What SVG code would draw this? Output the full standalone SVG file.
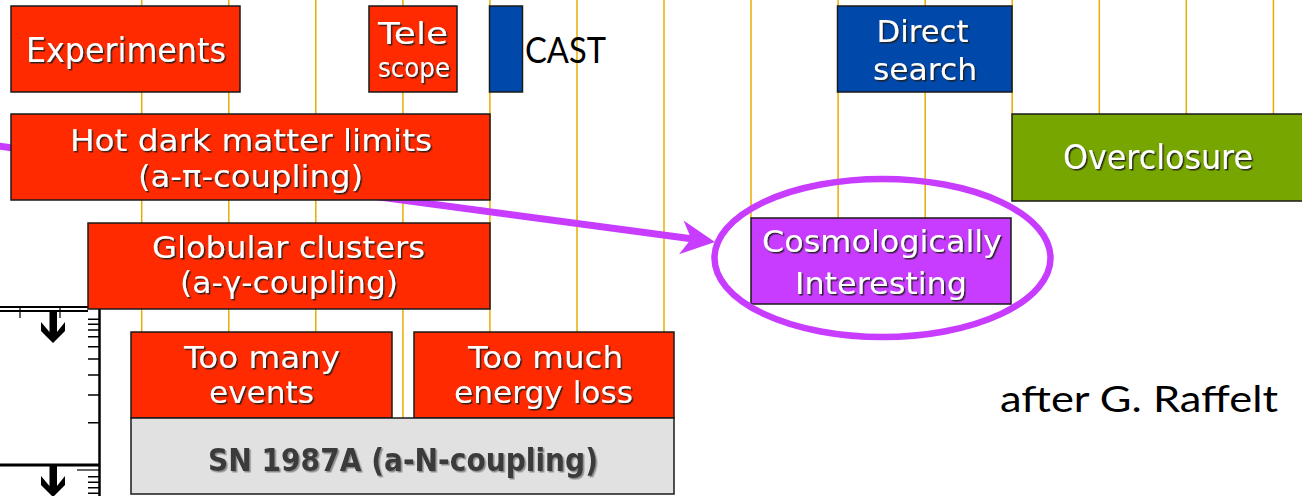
<svg xmlns="http://www.w3.org/2000/svg" width="1302" height="496" viewBox="0 0 1302 496">
<style>
.vl{stroke:#E6AE00;stroke-width:1.5;fill:none}
.box{stroke:#1a1a1a;stroke-width:1.5}
.red{fill:#FF2A00}
.blue{fill:#0048AA}
.green{fill:#78A600}
.purple{fill:#C83CFF}
.gray{fill:#E1E1E1}
.w{font-family:"DejaVu Sans",sans-serif;font-size:33px;fill:#fff;text-anchor:middle;filter:url(#sh)}
.w2{font-size:31px}
.d{font-family:"DejaVu Sans",sans-serif;font-size:32px;font-weight:bold;fill:#3a3a3a;text-anchor:middle;filter:url(#sh2)}
.k{font-family:Lato,"Liberation Sans",sans-serif;font-size:36px;fill:#000}
.ax{stroke:#000;fill:none}
</style>
<defs>
<filter id="sh" x="-5%" y="-20%" width="115%" height="150%">
<feDropShadow dx="1.5" dy="1.5" stdDeviation="0.4" flood-color="#1a1a1a" flood-opacity="0.9"/>
</filter>
<filter id="sh2" x="-5%" y="-20%" width="115%" height="150%">
<feDropShadow dx="1.5" dy="1.5" stdDeviation="0.4" flood-color="#8a8a8a" flood-opacity="1"/>
</filter>
<marker id="ah" markerUnits="userSpaceOnUse" viewBox="-36 -20 40 40" markerWidth="40" markerHeight="40" refX="-22" refY="0" orient="auto">
<path d="M0,0 L-34,-17 L-24,0 L-34,17 Z" fill="#C83CFF"/>
</marker>
</defs>

<g id="gridlines">
<line class="vl" x1="141.7" y1="0" x2="141.7" y2="332"/>
<line class="vl" x1="228.8" y1="0" x2="228.8" y2="332"/>
<line class="vl" x1="315.8" y1="0" x2="315.8" y2="332"/>
<line class="vl" x1="402.9" y1="0" x2="402.9" y2="418"/>
<line class="vl" x1="489.9" y1="0" x2="489.9" y2="332"/>
<line class="vl" x1="577" y1="0" x2="577" y2="332"/>
<line class="vl" x1="664" y1="0" x2="664" y2="332"/>
<line class="vl" x1="751" y1="0" x2="751" y2="218"/>
<line class="vl" x1="838.1" y1="0" x2="838.1" y2="218"/>
<line class="vl" x1="925.2" y1="0" x2="925.2" y2="218"/>
<line class="vl" x1="1012.2" y1="0" x2="1012.2" y2="114"/>
<line class="vl" x1="1099.3" y1="0" x2="1099.3" y2="114"/>
<line class="vl" x1="1186.3" y1="0" x2="1186.3" y2="114"/>
<line class="vl" x1="1273.4" y1="0" x2="1273.4" y2="114"/>
</g>

<g id="connectors">
<line x1="-10" y1="145" x2="693.2" y2="239" stroke="#C83CFF" stroke-width="7" marker-end="url(#ah)"/>
</g>

<g id="plot-fragment">
<line class="ax" x1="0" y1="307" x2="101" y2="307" stroke-width="2"/>
<line class="ax" x1="0" y1="311" x2="88" y2="311" stroke-width="2"/>
<line class="ax" x1="20" y1="307" x2="20" y2="318" stroke-width="1.2"/>
<line class="ax" x1="60" y1="307" x2="60" y2="318" stroke-width="1.2"/>
<line class="ax" x1="99.5" y1="306" x2="99.5" y2="496" stroke-width="2.5"/>
<path class="ax" stroke-width="1.5" d="M88,319.3H99 M88,324.3H99 M88,330H99 M88,336.7H99 M88,346.7H99 M88,359H99 M88,375H99 M88,395H99 M88,422.7H99 M88,476.7H99 M88,482.3H99 M88,487.7H99 M88,493.3H99"/>
<line class="ax" x1="0" y1="465" x2="100" y2="465" stroke-width="3"/>
<line class="ax" x1="77" y1="470" x2="99" y2="470" stroke-width="1.2"/>
<path d="M49.5,312H57V332L65,322V331L53,343L41,331V322L49.5,332Z" fill="#000"/>
<path d="M49.5,466H57V486L65,476V485L53,497L41,485V476L49.5,486Z" fill="#000"/>
</g>

<g id="experiments">
<rect class="box red" x="11" y="6" width="229" height="86"/>
<text class="w" x="126" y="62" textLength="200" lengthAdjust="spacingAndGlyphs">Experiments</text>
</g>

<g id="telescope">
<rect class="box red" x="369" y="6" width="88" height="86"/>
<text class="w" x="413" y="44" style="font-size:31px" textLength="70" lengthAdjust="spacingAndGlyphs">Tele</text>
<text class="w" x="414" y="77" style="font-size:26px" textLength="72" lengthAdjust="spacingAndGlyphs">scope</text>
</g>

<g id="cast">
<rect class="box blue" x="489.5" y="6" width="33" height="86"/>
<text class="k" x="525" y="63" textLength="81" lengthAdjust="spacingAndGlyphs">CAST</text>
</g>

<g id="direct-search">
<rect class="box blue" x="837.5" y="6" width="174.5" height="86"/>
<text class="w w2" x="922.5" y="42" textLength="92" lengthAdjust="spacingAndGlyphs">Direct</text>
<text class="w w2" x="925" y="80" textLength="104" lengthAdjust="spacingAndGlyphs">search</text>
</g>

<g id="hot-dark-matter">
<rect class="box red" x="11" y="114" width="479" height="86"/>
<text class="w w2" x="251" y="151" textLength="362" lengthAdjust="spacingAndGlyphs">Hot dark matter limits</text>
<text class="w w2" x="250.5" y="186.5" textLength="225" lengthAdjust="spacingAndGlyphs">(a-π-coupling)</text>
</g>

<g id="overclosure">
<rect class="box green" x="1012" y="114" width="300" height="87"/>
<text class="w" x="1158" y="169" textLength="190" lengthAdjust="spacingAndGlyphs">Overclosure</text>
</g>

<g id="globular-clusters">
<rect class="box red" x="88" y="223" width="402" height="86"/>
<text class="w w2" x="288.5" y="258" textLength="273" lengthAdjust="spacingAndGlyphs">Globular clusters</text>
<text class="w w2" x="289" y="293" textLength="218" lengthAdjust="spacingAndGlyphs">(a-γ-coupling)</text>
</g>

<g id="cosmologically-interesting">
<rect class="box purple" x="751" y="218" width="260" height="86"/>
<text class="w w2" x="882" y="252" textLength="240" lengthAdjust="spacingAndGlyphs">Cosmologically</text>
<text class="w w2" x="881" y="294" textLength="172" lengthAdjust="spacingAndGlyphs">Interesting</text>
</g>

<g id="too-many-events">
<rect class="box red" x="131" y="332" width="261" height="86"/>
<text class="w w2" x="262" y="368" textLength="156" lengthAdjust="spacingAndGlyphs">Too many</text>
<text class="w w2" x="261.5" y="403" textLength="105" lengthAdjust="spacingAndGlyphs">events</text>
</g>

<g id="too-much-energy-loss">
<rect class="box red" x="414" y="332" width="260" height="86"/>
<text class="w w2" x="545.5" y="368" textLength="155" lengthAdjust="spacingAndGlyphs">Too much</text>
<text class="w w2" x="543.5" y="403" textLength="179" lengthAdjust="spacingAndGlyphs">energy loss</text>
</g>

<g id="sn1987a">
<rect class="box gray" x="131" y="418" width="543" height="76"/>
<text class="d" x="403" y="471" textLength="390" lengthAdjust="spacingAndGlyphs">SN 1987A (a-N-coupling)</text>
</g>

<g id="highlight">
<ellipse cx="882.5" cy="258" rx="168" ry="79" fill="none" stroke="#C83CFF" stroke-width="6.5"/>
</g>

<g id="credit">
<text class="k" x="1000" y="411.5" textLength="278" lengthAdjust="spacingAndGlyphs">after G. Raffelt</text>
</g>
</svg>
